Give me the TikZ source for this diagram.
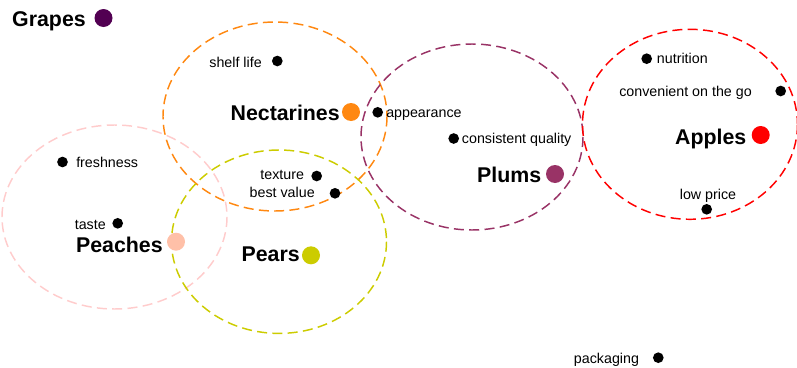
\documentclass[tikz,border=0pt]{standalone}
\usepackage{fontspec}
\setmainfont{Liberation Sans}
\definecolor{cgrape}{HTML}{520052}
\definecolor{cnect}{HTML}{FF8811}
\definecolor{cplum}{HTML}{993366}
\definecolor{capple}{HTML}{FF0000}
\definecolor{cpeach}{HTML}{FFC0A8}
\definecolor{cpeachring}{HTML}{FFCCCC}
\definecolor{cpear}{HTML}{CCCC00}
\begin{document}
\begin{tikzpicture}[x=0.75pt,y=-0.75pt,
  lab/.style={font=\fontsize{10.7}{12}\selectfont, inner sep=0pt},
  big/.style={font=\fontsize{16}{19}\selectfont\bfseries, inner sep=0pt},
  attr/.style={circle, fill=black, minimum size=8pt, inner sep=0pt},
  fruit/.style={circle, fill=#1, minimum size=13.5pt, inner sep=0pt},
  ring/.style={draw=#1, line width=1.1pt, dash pattern=on 7.5pt off 4pt}]
\useasboundingbox (0,0) rectangle (797,368);

% rings
\coordinate (cPea) at (114.5,217);
\coordinate (cNec) at (275,116.5);
\coordinate (cPear) at (279,241.7);
\coordinate (cPlu) at (472,137);
\coordinate (cApp) at (690,124.3);
\draw[ring=cpeachring] (cPea) ellipse [x radius=112.5, y radius=92];
\draw[ring=cnect] (cNec) ellipse [x radius=112, y radius=94.5];
\draw[ring=cpear] (cPear) ellipse [x radius=107.5, y radius=91.7];
\draw[ring=cplum] (cPlu) ellipse [x radius=111, y radius=93];
\draw[ring=capple] (cApp) ellipse [x radius=107.5, y radius=95];

% fruits
\node[fruit=cgrape] (grapes) at (103.5,18) {};
\node[big, anchor=mid east] (grapesL) at (86,22.5) {Grapes};
\node[fruit=cnect] (nect) at (351,112) {};
\node[big, anchor=mid east] (nectL) at (340,117) {Nectarines};
\node[fruit=cplum] (plums) at (555,174) {};
\node[big, anchor=mid east] (plumsL) at (541.5,179) {Plums};
\node[fruit=capple] (apples) at (760.7,135) {};
\node[big, anchor=mid east] (applesL) at (746.5,141) {Apples};
\node[fruit=cpeach] (peaches) at (176,241.7) {};
\node[big, anchor=mid east] (peachesL) at (163,249) {Peaches};
\node[fruit=cpear] (pears) at (311,255.3) {};
\node[big, anchor=mid east] (pearsL) at (300,258) {Pears};

% attributes
\node[attr] (shelf) at (277.3,61) {};
\node[lab, anchor=mid east] (shelfL) at (262,63.5) {shelf life};
\node[attr] (appear) at (377.7,112.3) {};
\node[lab, anchor=mid west] (appearL) at (386,113.5) {appearance};
\node[attr] (fresh) at (62.5,162) {};
\node[lab, anchor=mid west] (freshL) at (76,163.5) {freshness};
\node[attr] (text) at (316.7,176) {};
\node[lab, anchor=mid east] (textL) at (304.3,175.5) {texture};
\node[attr] (best) at (335,193.3) {};
\node[lab, anchor=mid east] (bestL) at (315,193.5) {best value};
\node[attr] (taste) at (117.7,223.3) {};
\node[lab, anchor=mid east] (tasteL) at (106,225.5) {taste};
\node[attr] (cons) at (453.7,138.5) {};
\node[lab, anchor=mid west] (consL) at (461.7,140) {consistent quality};
\node[attr] (nutr) at (646.7,58.7) {};
\node[lab, anchor=mid west] (nutrL) at (656.7,60) {nutrition};
\node[attr] (conv) at (780.7,91) {};
\node[lab, anchor=mid east] (convL) at (752,92.5) {convenient on the go};
\node[attr] (low) at (706.7,209.3) {};
\node[lab, anchor=mid] (lowL) at (708,195.5) {low price};
\node[attr] (pack) at (658.3,357.7) {};
\node[lab, anchor=mid east] (packL) at (639.3,359.5) {packaging};
\end{tikzpicture}
\end{document}
